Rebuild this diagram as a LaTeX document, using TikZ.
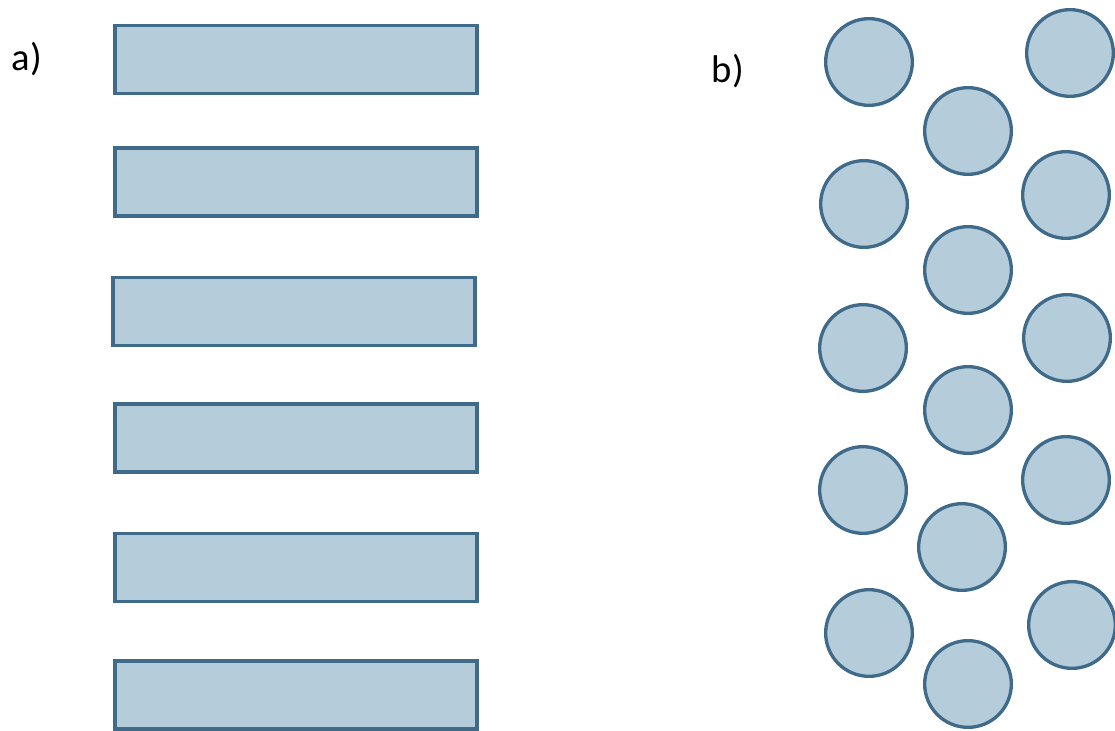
\documentclass[tikz,border=0pt]{standalone}
\usepackage{fontspec}
\setmainfont{Carlito}
\definecolor{barfill}{HTML}{B5CDDB}
\definecolor{barline}{HTML}{3F6A8A}
\begin{document}
\begin{tikzpicture}[x=0.75pt,y=-0.75pt,
  bar/.style={draw=barline,fill=barfill,line width=2.5pt,minimum width=271.5pt,minimum height=51pt,inner sep=0pt,outer sep=0pt},
  rod/.style={circle,draw=barline,fill=barfill,line width=2.5pt,minimum size=65pt,inner sep=0pt,outer sep=0pt},
  tag/.style={font=\fontsize{29pt}{32pt}\selectfont,text=black,inner sep=0pt}]
\useasboundingbox (0,0) rectangle (1115,731);
% a) parallel layers
\node[tag] (la) at (27,59) {a)};
\node[bar] (r1) at (296,59.5) {};
\node[bar] (r2) at (296,182) {};
\node[bar] (r3) at (294,311.5) {};
\node[bar] (r4) at (296,438) {};
\node[bar] (r5) at (296,567.5) {};
\node[bar] (r6) at (296,695) {};
% b) dispersed cylinders
\node[tag] (lb) at (728,71) {b)};
\node[rod] (c1) at (869,62) {};
\node[rod] (c2) at (1070,53) {};
\node[rod] (c3) at (968,131) {};
\node[rod] (c4) at (864,204) {};
\node[rod] (c5) at (1066,195) {};
\node[rod] (c6) at (968,270) {};
\node[rod] (c7) at (863,348) {};
\node[rod] (c8) at (1067,338) {};
\node[rod] (c9) at (968,410) {};
\node[rod] (c10) at (863,490) {};
\node[rod] (c11) at (1066,480) {};
\node[rod] (c12) at (962,547) {};
\node[rod] (c13) at (869,633) {};
\node[rod] (c14) at (1072,625) {};
\node[rod] (c15) at (968,684) {};
\end{tikzpicture}
\end{document}
